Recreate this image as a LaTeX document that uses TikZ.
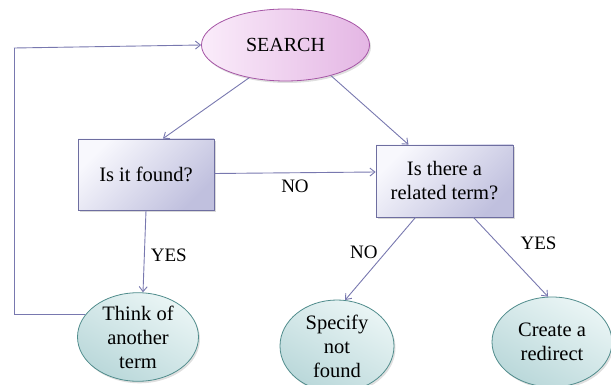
\documentclass[tikz,border=0pt]{standalone}
\usepackage{fontspec}
\setmainfont{Liberation Serif}
\usetikzlibrary{arrows.meta,shapes.geometric,shadows,calc}
\definecolor{linec}{RGB}{120,120,175}
\definecolor{pinkL}{RGB}{250,236,250}
\definecolor{pinkD}{RGB}{228,182,228}
\definecolor{pinkB}{RGB}{165,85,165}
\definecolor{boxL}{RGB}{248,248,253}
\definecolor{boxD}{RGB}{192,192,222}
\definecolor{boxB}{RGB}{110,110,160}
\definecolor{tealL}{RGB}{234,245,245}
\definecolor{tealD}{RGB}{186,216,218}
\definecolor{tealB}{RGB}{80,140,140}
\tikzset{
  conn/.style={draw=linec, line width=0.9pt, -{Straight Barb[length=5pt,width=8pt]}},
  plainconn/.style={draw=linec, line width=0.9pt},
  startell/.style={ellipse, draw=pinkB, line width=0.8pt, left color=pinkL, right color=pinkD,
     minimum width=168pt, minimum height=72pt, inner sep=0pt, font=\fontsize{20}{23}\selectfont,
     drop shadow={opacity=0.25, shadow xshift=1.5pt, shadow yshift=-2pt}},
  qbox/.style={rectangle, draw=boxB, line width=0.8pt, shading=axis, top color=boxL, bottom color=boxD,
     shading angle=45, inner sep=0pt, align=center, font=\fontsize{20.5}{24}\selectfont,
     drop shadow={opacity=0.3, shadow xshift=2pt, shadow yshift=-2pt}},
  endell/.style={ellipse, draw=tealB, line width=0.8pt, shading=axis, top color=tealL, bottom color=tealD,
     shading angle=-30, inner sep=0pt, align=center, font=\fontsize{20.5}{24}\selectfont,
     drop shadow={opacity=0.25, shadow xshift=1.5pt, shadow yshift=-2pt}},
  lbl/.style={font=\fontsize{19}{21}\selectfont, inner sep=0pt}
}
\begin{document}
\begin{tikzpicture}[x=1pt,y=-1pt]
\useasboundingbox (0,0) rectangle (611,385);
\node[startell] (search) at (285.5,45) {SEARCH};
\node[qbox, minimum width=136pt, minimum height=71pt] (found) at (146,174.5) {Is it found?};
\node[qbox, minimum width=137pt, minimum height=72pt] (related) at (444.5,181) {Is there a\\related term?};
\node[endell, minimum width=121pt, minimum height=88pt] (think) at (138,337) {Think of\\another\\term};
\node[endell, minimum width=114pt, minimum height=92pt] (specify) at (337,346) {Specify\\not\\found};
\node[endell, minimum width=120pt, minimum height=90pt] (create) at (552,342) {Create a\\redirect};
\coordinate (lx) at (14,48);
\draw[conn] (search.222) -- ([xshift=17pt]found.north);
\draw[conn] (search.326) -- ([xshift=-36pt]related.north);
\draw[conn] ([yshift=1pt]found.east) -- ([yshift=9pt]related.west) node[lbl, pos=0.5, below=7pt] (no1) {NO};
\draw[conn] (found.south) -- ([xshift=5pt]think.north) node[lbl, pos=0.55, right=6pt] (yes1) {YES};
\draw[conn] ([xshift=-29pt]related.south) -- (specify.80) node[lbl, pos=0.42, left=8pt] (no2) {NO};
\draw[conn] ([xshift=29pt]related.south) -- (create.95) node[lbl, pos=0.33, right=22pt] (yes2) {YES};
\draw[plainconn] (think.157) -- (think.157 -| lx) -- (lx);
\draw[conn] (lx) -- (search.west);
\end{tikzpicture}
\end{document}
